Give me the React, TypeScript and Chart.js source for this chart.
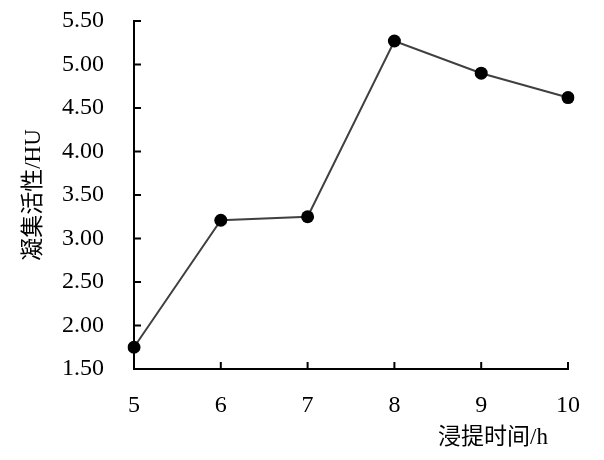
import React, { useEffect, useRef } from "react";
import { Chart, registerables } from "chart.js";

Chart.register(...registerables);

const categories = ["5", "6", "7", "8", "9", "10"];
const activity = [1.75, 3.21, 3.25, 5.27, 4.9, 4.62];
const yMin = 1.5;
const yMax = 5.5;
const yStep = 0.5;
const xTitle = "浸提时间/h";
const yTitle = "凝集活性/HU";

const FONT = "'Liberation Serif', 'Times New Roman', 'Noto Sans CJK SC', serif";

const axisDecor = {
  id: "axisDecor",
  afterDraw(chart: any) {
    const { ctx, chartArea, scales } = chart;
    const x = scales.x;
    const y = scales.y;
    ctx.save();
    ctx.strokeStyle = "#000";
    ctx.lineWidth = 2;
    const len = 7;
    ctx.beginPath();
    x.ticks.forEach((_: any, i: number) => {
      const px = x.getPixelForTick(i);
      ctx.moveTo(px, chartArea.bottom);
      ctx.lineTo(px, chartArea.bottom - len);
    });
    y.ticks.forEach((_: any, i: number) => {
      const py = y.getPixelForTick(i);
      ctx.moveTo(chartArea.left, py);
      ctx.lineTo(chartArea.left + len, py);
    });
    ctx.stroke();

    ctx.fillStyle = "#000";
    ctx.font = `23px ${FONT}`;
    ctx.textBaseline = "middle";
    ctx.textAlign = "right";
    ctx.fillText(xTitle, chartArea.right - 20, 438);

    ctx.translate(34, (chartArea.top + chartArea.bottom) / 2);
    ctx.rotate(-Math.PI / 2);
    ctx.textAlign = "center";
    ctx.fillText(yTitle, 0, 0);
    ctx.restore();
  },
};

export default function App() {
  const ref = useRef<HTMLCanvasElement | null>(null);

  useEffect(() => {
    if (!ref.current) return;
    const chart = new Chart(ref.current, {
      type: "line",
      data: {
        labels: categories,
        datasets: [
          {
            data: activity,
            borderColor: "#404040",
            borderWidth: 2,
            pointRadius: 6.5,
            pointBackgroundColor: "#000",
            pointBorderColor: "#000",
            pointBorderWidth: 0,
            tension: 0,
          },
        ],
      },
      options: {
        animation: false,
        responsive: false,
        maintainAspectRatio: false,
        layout: { padding: { top: 21, right: 36, left: 0, bottom: 0 } },
        plugins: { legend: { display: false }, tooltip: { enabled: false } },
        scales: {
          x: {
            type: "category",
            offset: false,
            grid: { drawOnChartArea: false, drawTicks: false },
            border: { display: true, color: "#000", width: 2 },
            ticks: { color: "#000", font: { family: FONT, size: 24 }, padding: 22, maxRotation: 0 },
            afterFit: (s: any) => {
              s.height = 91;
            },
          },
          y: {
            min: yMin,
            max: yMax,
            grid: { drawOnChartArea: false, drawTicks: false },
            border: { display: true, color: "#000", width: 2 },
            ticks: {
              stepSize: yStep,
              color: "#000",
              font: { family: FONT, size: 24 },
              padding: 30,
              callback: (v: any) => Number(v).toFixed(2),
            },
            afterFit: (s: any) => {
              s.width = 134;
              s.paddingTop = 0;
              s.paddingBottom = 0;
            },
          },
        },
      },
      plugins: [axisDecor],
    });
    return () => chart.destroy();
  }, []);

  return (
    <div style={{ position: "fixed", left: 0, top: 0, width: 604, height: 460, background: "#fff" }}>
      <canvas ref={ref} width={604} height={460} style={{ width: 604, height: 460 }} />
    </div>
  );
}
